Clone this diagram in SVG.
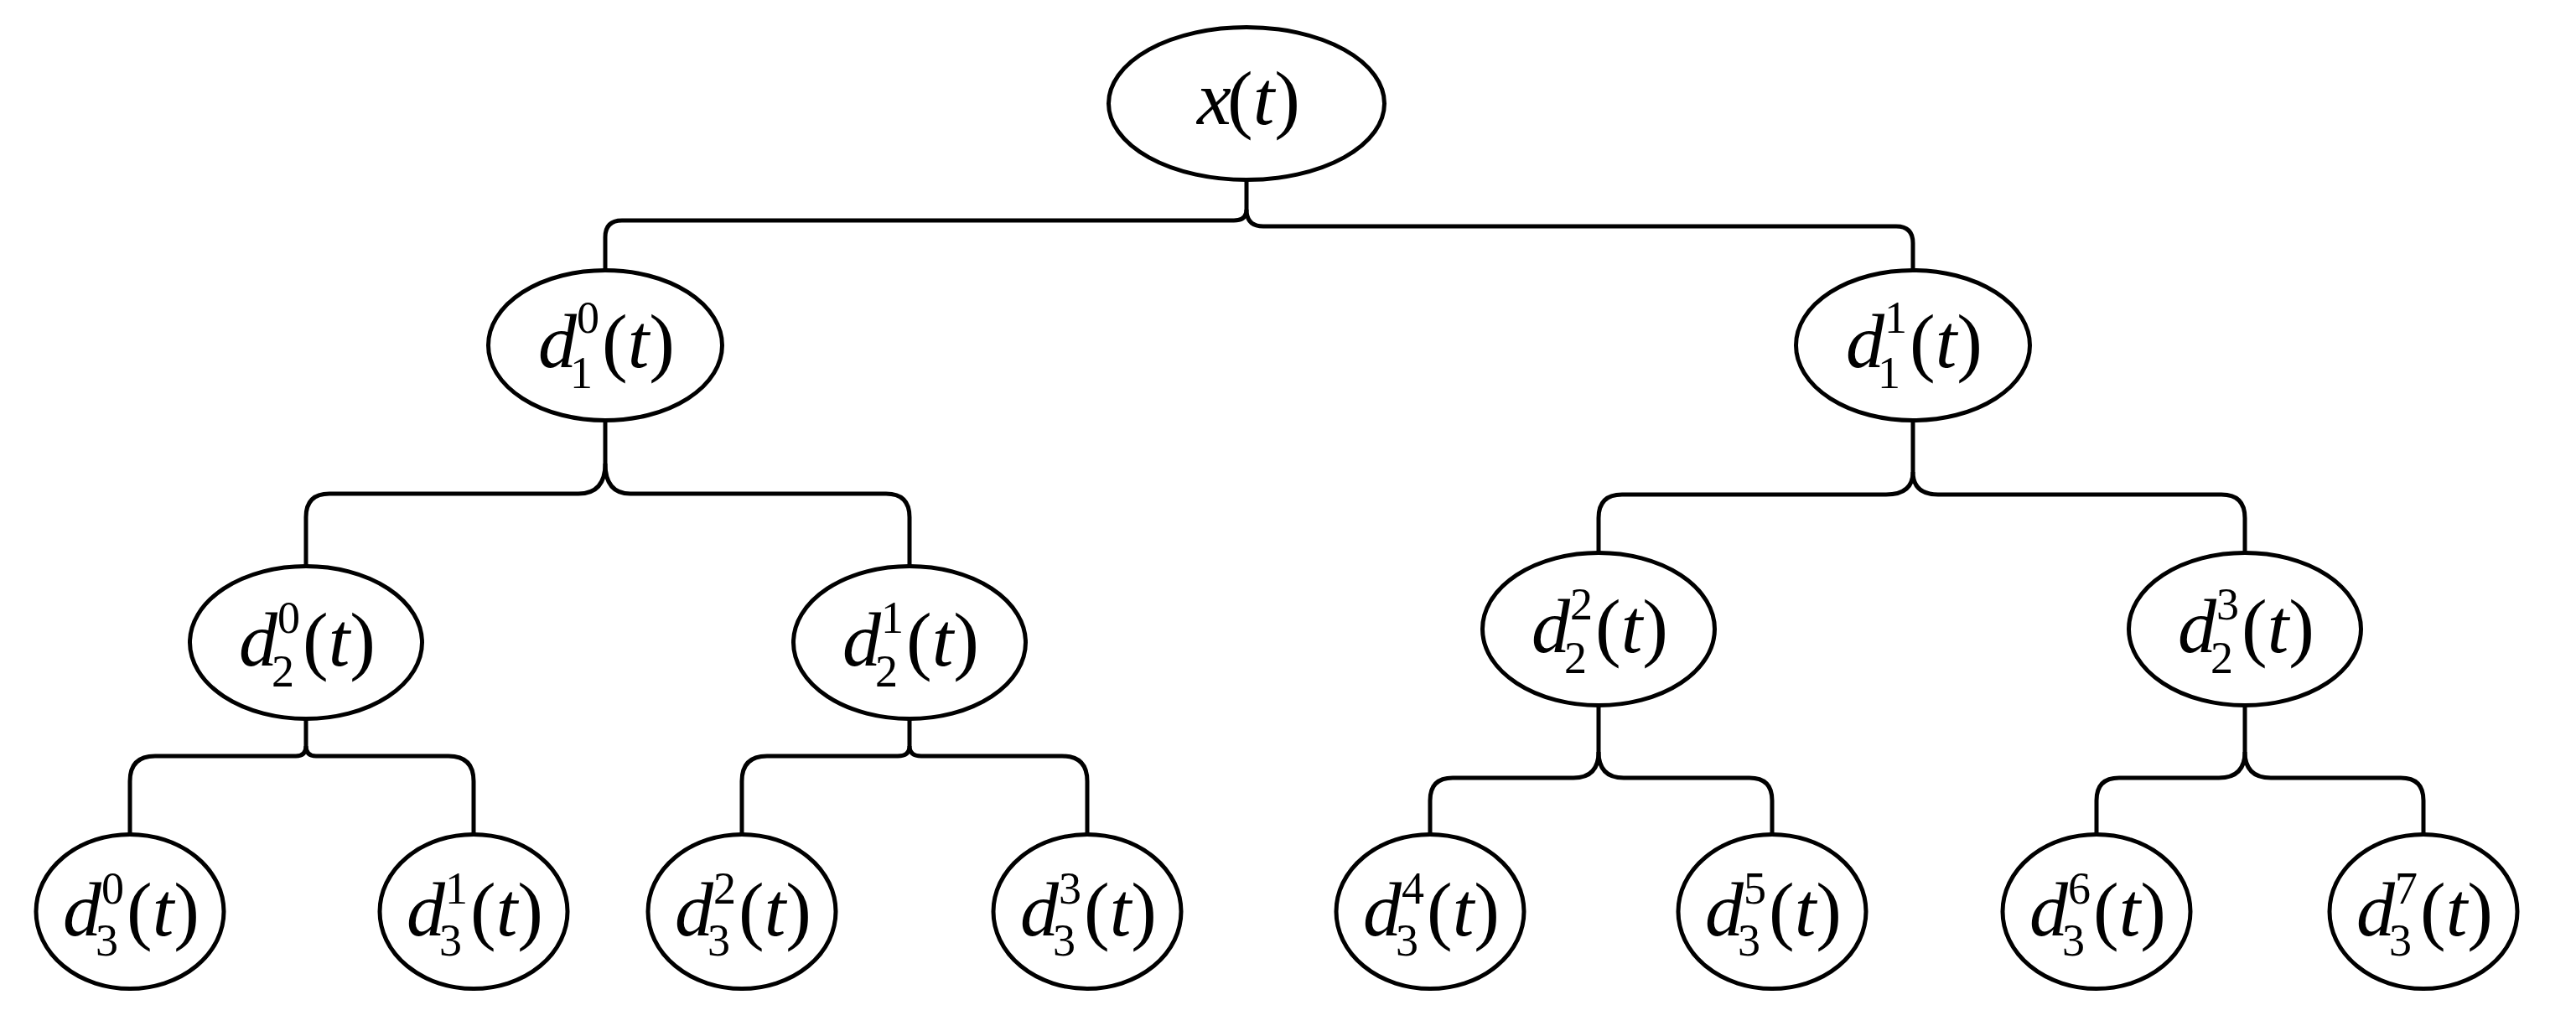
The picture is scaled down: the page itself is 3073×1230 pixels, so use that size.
<svg xmlns="http://www.w3.org/2000/svg" width="3073" height="1230" viewBox="0 0 3073 1230">
<style>
.n{fill:#fff;stroke:#000;stroke-width:5}
.c{fill:none;stroke:#000;stroke-width:5}
text{font-family:"Liberation Serif","Times New Roman",serif;font-size:92px;fill:#000}
.i{font-style:italic}
.s{font-size:54px;font-style:normal}
</style>
<rect width="3073" height="1230" fill="#fff"/>
<g id="connectors">
<path class="c" d="M1487,215 V250 Q1487,263 1472,263 H742 Q722,263 722,283 V322"/>
<path class="c" d="M1487,250 Q1487,270 1507,270 H2262 Q2282,270 2282,290 V322"/>
<path class="c" d="M722,502 V553 Q722,589 690,589 H393 Q365,589 365,617 V675"/>
<path class="c" d="M722,553 Q722,589 752,589 H1057 Q1085,589 1085,617 V675"/>
<path class="c" d="M2282,503 V563 Q2282,590 2250,590 H1935 Q1907,590 1907,618 V659"/>
<path class="c" d="M2282,563 Q2282,590 2312,590 H2650 Q2678,590 2678,618 V659"/>
<path class="c" d="M365,857 V890 Q365,902 353,902 H185 Q155,902 155,932 V995"/>
<path class="c" d="M365,890 Q365,902 377,902 H535 Q565,902 565,932 V995"/>
<path class="c" d="M1085,857 V890 Q1085,902 1071,902 H915 Q885,902 885,932 V995"/>
<path class="c" d="M1085,890 Q1085,902 1099,902 H1267 Q1297,902 1297,932 V995"/>
<path class="c" d="M1907,841 V897 Q1907,928 1877,928 H1733 Q1706,928 1706,955 V995"/>
<path class="c" d="M1907,897 Q1907,928 1937,928 H2087 Q2114,928 2114,955 V995"/>
<path class="c" d="M2678,841 V897 Q2678,928 2647,928 H2528 Q2501,928 2501,955 V995"/>
<path class="c" d="M2678,897 Q2678,928 2709,928 H2864 Q2891,928 2891,955 V995"/>
</g>
<g id="root">
<ellipse class="n" cx="1487" cy="123.5" rx="164.5" ry="91"/>
<text y="148"><tspan class="i" x="1428">x</tspan><tspan x="1464">(</tspan><tspan class="i">t</tspan><tspan>)</tspan></text>
</g>
<g id="d1_0">
<ellipse class="n" cx="722" cy="412" rx="139.5" ry="89.5"/>
<text y="438"><tspan class="i" x="642">d</tspan><tspan class="s" x="680" y="463">1</tspan><tspan class="s" x="688" y="397">0</tspan><tspan x="718" y="438">(</tspan><tspan class="i">t</tspan><tspan>)</tspan></text>
</g>
<g id="d1_1">
<ellipse class="n" cx="2282" cy="412" rx="139.5" ry="89.5"/>
<text y="438"><tspan class="i" x="2202">d</tspan><tspan class="s" x="2240" y="463">1</tspan><tspan class="s" x="2248" y="397">1</tspan><tspan x="2278" y="438">(</tspan><tspan class="i">t</tspan><tspan>)</tspan></text>
</g>
<g id="d2_0">
<ellipse class="n" cx="365" cy="766.5" rx="138.5" ry="91"/>
<text y="794"><tspan class="i" x="285">d</tspan><tspan class="s" x="324" y="819">2</tspan><tspan class="s" x="331" y="755">0</tspan><tspan x="361" y="794">(</tspan><tspan class="i">t</tspan><tspan>)</tspan></text>
</g>
<g id="d2_1">
<ellipse class="n" cx="1085" cy="766.5" rx="138.5" ry="91"/>
<text y="794"><tspan class="i" x="1005">d</tspan><tspan class="s" x="1044" y="819">2</tspan><tspan class="s" x="1051" y="755">1</tspan><tspan x="1081" y="794">(</tspan><tspan class="i">t</tspan><tspan>)</tspan></text>
</g>
<g id="d2_2">
<ellipse class="n" cx="1907" cy="750.5" rx="138.5" ry="91"/>
<text y="778"><tspan class="i" x="1827">d</tspan><tspan class="s" x="1866" y="803">2</tspan><tspan class="s" x="1873" y="739">2</tspan><tspan x="1903" y="778">(</tspan><tspan class="i">t</tspan><tspan>)</tspan></text>
</g>
<g id="d2_3">
<ellipse class="n" cx="2678" cy="750.5" rx="138.5" ry="91"/>
<text y="778"><tspan class="i" x="2598">d</tspan><tspan class="s" x="2637" y="803">2</tspan><tspan class="s" x="2644" y="739">3</tspan><tspan x="2674" y="778">(</tspan><tspan class="i">t</tspan><tspan>)</tspan></text>
</g>
<g id="d3_0">
<ellipse class="n" cx="155" cy="1087.5" rx="112" ry="92"/>
<text y="1116"><tspan class="i" x="75">d</tspan><tspan class="s" x="114" y="1140">3</tspan><tspan class="s" x="121" y="1078">0</tspan><tspan x="151" y="1116">(</tspan><tspan class="i">t</tspan><tspan>)</tspan></text>
</g>
<g id="d3_1">
<ellipse class="n" cx="565" cy="1087.5" rx="112" ry="92"/>
<text y="1116"><tspan class="i" x="485">d</tspan><tspan class="s" x="524" y="1140">3</tspan><tspan class="s" x="531" y="1078">1</tspan><tspan x="561" y="1116">(</tspan><tspan class="i">t</tspan><tspan>)</tspan></text>
</g>
<g id="d3_2">
<ellipse class="n" cx="885" cy="1087.5" rx="112" ry="92"/>
<text y="1116"><tspan class="i" x="805">d</tspan><tspan class="s" x="844" y="1140">3</tspan><tspan class="s" x="851" y="1078">2</tspan><tspan x="881" y="1116">(</tspan><tspan class="i">t</tspan><tspan>)</tspan></text>
</g>
<g id="d3_3">
<ellipse class="n" cx="1297" cy="1087.5" rx="112" ry="92"/>
<text y="1116"><tspan class="i" x="1217">d</tspan><tspan class="s" x="1256" y="1140">3</tspan><tspan class="s" x="1263" y="1078">3</tspan><tspan x="1293" y="1116">(</tspan><tspan class="i">t</tspan><tspan>)</tspan></text>
</g>
<g id="d3_4">
<ellipse class="n" cx="1706" cy="1087.5" rx="112" ry="92"/>
<text y="1116"><tspan class="i" x="1626">d</tspan><tspan class="s" x="1665" y="1140">3</tspan><tspan class="s" x="1672" y="1078">4</tspan><tspan x="1702" y="1116">(</tspan><tspan class="i">t</tspan><tspan>)</tspan></text>
</g>
<g id="d3_5">
<ellipse class="n" cx="2114" cy="1087.5" rx="112" ry="92"/>
<text y="1116"><tspan class="i" x="2034">d</tspan><tspan class="s" x="2073" y="1140">3</tspan><tspan class="s" x="2080" y="1078">5</tspan><tspan x="2110" y="1116">(</tspan><tspan class="i">t</tspan><tspan>)</tspan></text>
</g>
<g id="d3_6">
<ellipse class="n" cx="2501" cy="1087.5" rx="112" ry="92"/>
<text y="1116"><tspan class="i" x="2421">d</tspan><tspan class="s" x="2460" y="1140">3</tspan><tspan class="s" x="2467" y="1078">6</tspan><tspan x="2497" y="1116">(</tspan><tspan class="i">t</tspan><tspan>)</tspan></text>
</g>
<g id="d3_7">
<ellipse class="n" cx="2891" cy="1087.5" rx="112" ry="92"/>
<text y="1116"><tspan class="i" x="2811">d</tspan><tspan class="s" x="2850" y="1140">3</tspan><tspan class="s" x="2857" y="1078">7</tspan><tspan x="2887" y="1116">(</tspan><tspan class="i">t</tspan><tspan>)</tspan></text>
</g>
</svg>
